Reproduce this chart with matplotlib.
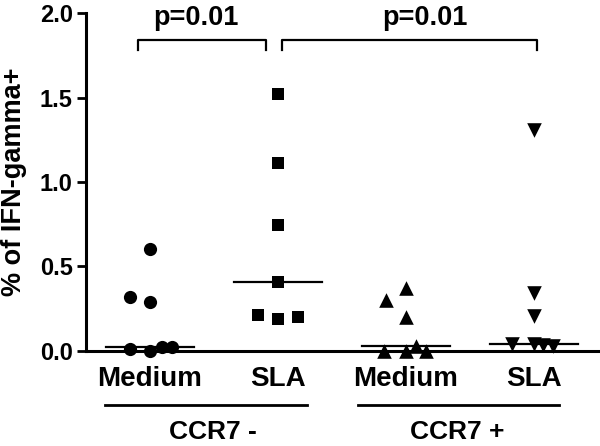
import matplotlib
matplotlib.use("Agg")
import matplotlib.pyplot as plt
import numpy as np

plt.rcParams["font.family"] = ["Liberation Sans", "DejaVu Sans"]
plt.rcParams["font.weight"] = "bold"

# Data (% of IFN-gamma+ cells)
conditions = ["Medium", "SLA", "Medium", "SLA"]
groups = ["CCR7 -", "CCR7 +"]
ccr7_neg_medium = [0.60, 0.32, 0.29, 0.01, 0.0, 0.02, 0.02]
ccr7_neg_sla = [1.52, 1.11, 0.745, 0.41, 0.21, 0.19, 0.20]
ccr7_pos_medium = [0.30, 0.37, 0.20, 0.0, 0.0, 0.03, 0.0]
ccr7_pos_sla = [1.31, 0.34, 0.205, 0.04, 0.04, 0.035, 0.03]
p_values = ["p=0.01", "p=0.01"]
y_ticks = [0.0, 0.5, 1.0, 1.5, 2.0]

# Horizontal scatter of the points inside a column (x units)
jitter = [
    [0, -0.16, 0, -0.16, 0, 0.09, 0.17],
    [0, 0, 0, 0, -0.16, 0, 0.16],
    [-0.16, 0, 0, -0.17, 0, 0.08, 0.16],
    [0, 0, 0, -0.17, 0, 0.07, 0.15],
]
markers = ["o", "s", "^", "v"]
marker_sizes = [9.5, 9.3, 10.5, 10.5]


def _draw_column(ax, x, values, offsets, marker, size):
    """
    Plot one column of points plus its median line

    :param ax: matplotlib ax object
    :param x: int, column position
    :param values: list of values
    :param offsets: list of horizontal offsets
    :param marker: str, matplotlib marker
    :param size: float, marker size in points
    """
    xs = x + np.array(offsets)
    ax.scatter(xs, values, marker=marker, s=size ** 2, color="black",
               linewidths=0, clip_on=False, zorder=3)
    med = np.median(values)
    ax.plot([x - 0.34, x + 0.34], [med, med], color="black", lw=1.6,
            clip_on=False, zorder=4)


fig = plt.figure(figsize=(6.0, 4.46), dpi=100)
ax = fig.add_axes([0.1433, 0.2137, 0.8534, 0.7565])

all_values = [ccr7_neg_medium, ccr7_neg_sla, ccr7_pos_medium, ccr7_pos_sla]
for i, values in enumerate(all_values):
    _draw_column(ax, i + 1, values, jitter[i], markers[i], marker_sizes[i])

# Brackets and p-values
for (x0, x1, xt), p in zip([(0.906, 1.906, 1.36), (2.03, 4.02, 3.15)], p_values):
    ax.plot([x0, x0, x1, x1], [1.78, 1.84, 1.84, 1.78], color="black",
            lw=1.6, clip_on=False)
    ax.text(xt, 1.93, p, ha="center", va="baseline", fontsize=19.5,
            fontweight="bold")

# Axes styling
ax.set_xlim(0.5, 4.5)
ax.set_ylim(0, 2.0)
ax.set_yticks(y_ticks)
ax.set_yticklabels([f"{t:.1f}" for t in y_ticks], fontsize=17, fontweight="bold")
ax.set_xticks([1, 2, 3, 4])
ax.set_xticklabels(conditions, fontsize=20, fontweight="bold")
ax.tick_params(axis="x", length=0, pad=11)
ax.tick_params(axis="y", length=6.5, width=2, pad=3)
for side in ["top", "right"]:
    ax.spines[side].set_visible(False)
for side in ["left", "bottom"]:
    ax.spines[side].set_linewidth(2.2)
ax.set_ylabel("% of IFN-gamma+", fontsize=19.5, fontweight="bold", labelpad=9)

# Group lines and labels under the x axis
trans = ax.get_xaxis_transform()
for (x0, x1, xt), g in zip([(0.648, 2.227, 1.49), (2.625, 4.195, 3.40)], groups):
    ax.plot([x0, x1], [-0.161, -0.161], color="black", lw=2, transform=trans,
            clip_on=False)
    ax.text(xt, -0.262, g, transform=trans, ha="center", va="baseline",
            fontsize=19, fontweight="bold")

fig.savefig("out.png", dpi=100)
